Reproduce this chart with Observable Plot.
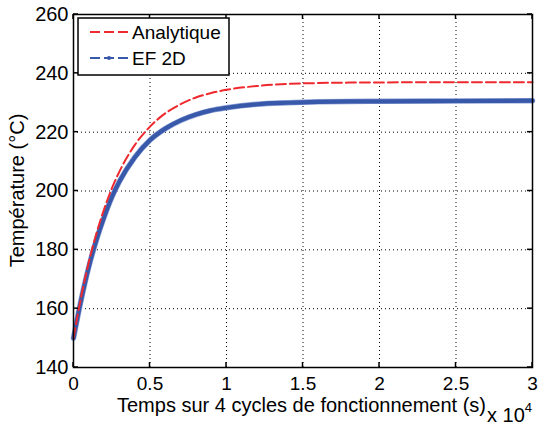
<!DOCTYPE html>
<html>
<head>
<meta charset="utf-8">
<script src="https://cdn.jsdelivr.net/npm/d3@7"></script>
<script src="https://cdn.jsdelivr.net/npm/@observablehq/plot@0.6"></script>
<style>
  html, body { margin: 0; padding: 0; background: #fff; }
  #wrap { position: relative; width: 538px; height: 426px; }
  svg { font-family: "Liberation Sans", Arial, sans-serif; }
</style>
</head>
<body>
<div id="wrap"></div>
<script>
// Time in units of 10^4 s
const time = [0, 0.05, 0.1, 0.15, 0.2, 0.25, 0.3, 0.4, 0.5, 0.6, 0.7, 0.8, 0.9, 1.0, 1.2, 1.4, 1.6, 1.8, 2.0, 2.5, 3.0];
const analytique = [150, 164.0, 175.8, 185.6, 193.8, 200.8, 206.6, 215.6, 221.9, 226.4, 229.5, 231.8, 233.3, 234.4, 235.7, 236.4, 236.7, 236.85, 236.9, 237.0, 237.0];
const ef2d = [150, 163.0, 174.2, 183.4, 191.1, 197.8, 203.2, 211.4, 217.3, 221.2, 224.0, 226.0, 227.4, 228.3, 229.5, 230.0, 230.3, 230.45, 230.5, 230.6, 230.7];
const xTicks = [0, 0.5, 1, 1.5, 2, 2.5, 3];
const xTickLabels = ["0", "0.5", "1", "1.5", "2", "2.5", "3"];
const yTicks = [140, 160, 180, 200, 220, 240, 260];
const seriesNames = ["Analytique", "EF 2D"];
const seriesColors = ["#ee2a2e", "#3858aa"];
const xLabel = "Temps sur 4 cycles de fonctionnement (s)";
const yLabel = "Température (°C)";

const rowsA = time.map((t, i) => ({t, v: analytique[i]}));
const rowsB = time.map((t, i) => ({t, v: ef2d[i]}));
const FONT = '"Liberation Sans", Arial, sans-serif';

const chart = Plot.plot({
  width: 538,
  height: 426,
  marginTop: 14,
  marginBottom: 59,
  marginLeft: 73,
  marginRight: 6,
  style: {fontFamily: FONT, fontSize: "20px", color: "#000", background: "#fff"},
  x: {domain: [0, 3]},
  y: {domain: [140, 260]},
  marks: [
    Plot.gridX(xTicks.slice(1, -1), {stroke: "#000", strokeOpacity: 1, strokeWidth: 1, strokeDasharray: "1,3"}),
    Plot.gridY(yTicks.slice(1, -1), {stroke: "#000", strokeOpacity: 1, strokeWidth: 1, strokeDasharray: "1,3"}),
    Plot.line(rowsB, {x: "t", y: "v", stroke: "#8ea2d6", strokeWidth: 5.5, curve: "monotone-x"}),
    Plot.line(rowsB, {x: "t", y: "v", stroke: seriesColors[1], strokeWidth: 4.2, curve: "monotone-x"}),
    Plot.line(rowsA, {x: "t", y: "v", stroke: seriesColors[0], strokeWidth: 2, strokeDasharray: "10,4", curve: "monotone-x"}),
    Plot.axisX({ticks: xTicks, tickSize: 0, tickPadding: 9, label: null, fontSize: 19, tickFormat: (d) => xTickLabels[xTicks.indexOf(d)]}),
    Plot.axisY({ticks: yTicks, tickSize: 0, tickPadding: 5, label: null, fontSize: 20}),
    Plot.frame({stroke: "#000", strokeWidth: 1.5})
  ]
});

document.getElementById("wrap").appendChild(chart);

// Inward ticks on all four sides, placed through the plot's scales
const sx = chart.scale("x"), sy = chart.scale("y");
const svg = d3.select(chart);
const [x0, x1] = sx.range, [y0, y1] = sy.range; // y0 bottom, y1 top
const g = svg.append("g").attr("stroke", "#000").attr("stroke-width", 1.5);
xTicks.forEach(v => {
  const px = sx.apply(v);
  g.append("line").attr("x1", px).attr("x2", px).attr("y1", y0).attr("y2", y0 - 5);
  g.append("line").attr("x1", px).attr("x2", px).attr("y1", y1).attr("y2", y1 + 5);
});
yTicks.forEach(v => {
  const py = sy.apply(v);
  g.append("line").attr("x1", x0).attr("x2", x0 + 5).attr("y1", py).attr("y2", py);
  g.append("line").attr("x1", x1).attr("x2", x1 - 5).attr("y1", py).attr("y2", py);
});

// Axis labels
const cx = (x0 + x1) / 2, cy = (y0 + y1) / 2;
svg.append("text").attr("x", cx - 1).attr("y", y0 + 45).attr("text-anchor", "middle")
  .attr("font-size", 20).attr("fill", "#000").text(xLabel);
const exp = svg.append("text").attr("x", x1 - 45).attr("y", y0 + 55).attr("text-anchor", "start")
  .attr("font-size", 20).attr("fill", "#000");
exp.append("tspan").text("x 10");
exp.append("tspan").attr("font-size", 13).attr("dy", -10).text("4");
svg.append("text").attr("transform", `translate(${x0 - 49},${cy}) rotate(-90)`).attr("text-anchor", "middle")
  .attr("font-size", 20).attr("fill", "#000").text(yLabel);

// Legend box
const lg = svg.append("g").attr("transform", `translate(${x0 + 5},${y1 + 4})`);
lg.append("rect").attr("width", 151).attr("height", 57).attr("fill", "#fff").attr("stroke", "#000").attr("stroke-width", 1.5);
seriesNames.forEach((name, i) => {
  const yy = 14 + i * 26;
  lg.append("line").attr("x1", 12).attr("x2", 51).attr("y1", yy).attr("y2", yy)
    .attr("stroke", seriesColors[i]).attr("stroke-width", 2).attr("stroke-dasharray", "10,4");
  if (i === 1) lg.append("circle").attr("cx", 31).attr("cy", yy).attr("r", 2).attr("fill", seriesColors[i]);
  lg.append("text").attr("x", 54).attr("y", yy + 7).attr("text-anchor", "start")
    .attr("font-size", 19).attr("fill", "#000").text(name);
});
</script>
</body>
</html>
